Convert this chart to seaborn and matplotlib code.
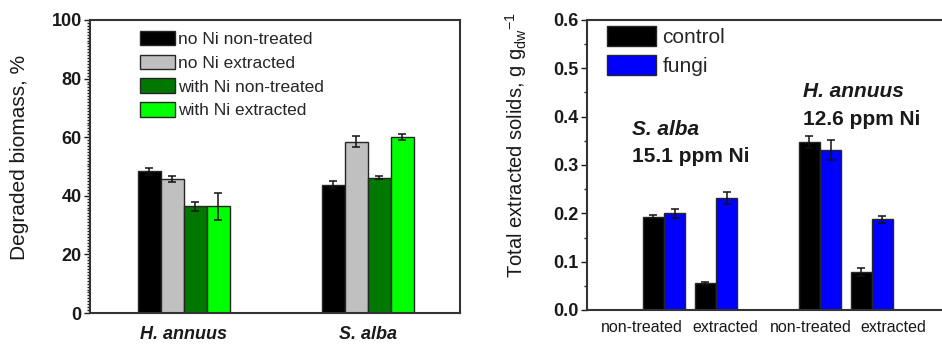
import matplotlib
matplotlib.use("Agg")
import matplotlib.pyplot as plt
from matplotlib.ticker import MultipleLocator, FormatStrFormatter
import pandas as pd
import seaborn as sns

# ---- data: degraded biomass (%) ----
plants = ["H. annuus", "S. alba"]
conditions = ["no Ni non-treated", "no Ni extracted",
              "with Ni non-treated", "with Ni extracted"]
degraded = {
    "H. annuus": [48.3, 45.8, 36.4, 36.4],
    "S. alba":   [43.7, 58.5, 46.2, 60.0],
}
degraded_err = {
    "H. annuus": [1.3, 1.1, 1.5, 4.5],
    "S. alba":   [1.2, 2.0, 0.5, 1.1],
}
cond_colors = ["#000000", "#c0c0c0", "#007800", "#00ff00"]

# ---- data: total extracted solids (g g_dw^-1) ----
solid_groups = ["S. alba non-treated", "S. alba extracted",
                "H. annuus non-treated", "H. annuus extracted"]
solid_ticklabels = ["non-treated", "extracted", "non-treated", "extracted"]
treatments = ["control", "fungi"]
solids_control = [0.193, 0.055, 0.348, 0.079]
solids_fungi = [0.200, 0.232, 0.331, 0.188]
solids_control_err = [0.003, 0.003, 0.012, 0.008]
solids_fungi_err = [0.009, 0.013, 0.021, 0.007]
treat_colors = ["#000000", "#0000ff"]

sns.set_style("ticks")
plt.rcParams["font.family"] = ["Liberation Sans", "DejaVu Sans"]
plt.rcParams["mathtext.fontset"] = "custom"
plt.rcParams["mathtext.rm"] = "Liberation Sans"
plt.rcParams["mathtext.it"] = "Liberation Sans:italic"

ink = "#1a1a1a"
edge = "#262626"

df1 = pd.DataFrame(
    [(p, c, v, e) for p in plants
     for c, v, e in zip(conditions, degraded[p], degraded_err[p])],
    columns=["plant", "condition", "value", "err"],
)

df2 = pd.DataFrame(
    [(g, t, v, e)
     for t, vals, errs in [("control", solids_control, solids_control_err),
                           ("fungi", solids_fungi, solids_fungi_err)]
     for g, v, e in zip(solid_groups, vals, errs)],
    columns=["group", "treatment", "value", "err"],
)

fig = plt.figure(figsize=(9.42, 3.47), dpi=100)
W, H = 942, 347
ax1 = fig.add_axes([90 / W, (H - 313) / H, 370 / W, 293 / H])
ax2 = fig.add_axes([587 / W, (H - 310) / H, (W - 587) / W, 290 / H])


def add_errorbars(ax, df, xcol, hcol, order, hue_order):
    for hue_name, cont in zip(hue_order, ax.containers):
        for bar in cont:
            xc = bar.get_x() + bar.get_width() / 2
            cat = order[int(round(xc))]
            row = df[(df[xcol] == cat) & (df[hcol] == hue_name)].iloc[0]
            ax.errorbar(xc, row["value"], yerr=row["err"], fmt="none",
                        ecolor="#111111", elinewidth=1.1, capsize=3.2,
                        capthick=1.1, zorder=5)


# ---- left panel ----
sns.barplot(data=df1, x="plant", y="value", hue="condition",
            order=plants, hue_order=conditions, palette=cond_colors,
            saturation=1, width=0.5, gap=0, edgecolor=edge, linewidth=1.0,
            errorbar=None, ax=ax1)
add_errorbars(ax1, df1, "plant", "condition", plants, conditions)
ax1.set_xlim(-0.51, 1.5)
ax1.set_ylim(0, 100)
ax1.yaxis.set_major_locator(MultipleLocator(20))
ax1.yaxis.set_minor_locator(MultipleLocator(1))
ax1.set_xlabel("")
ax1.set_ylabel("")
ax1.tick_params(axis="y", which="major", direction="out", length=4,
                width=1.0, color=ink, labelsize=13, labelcolor=ink, pad=2)
ax1.tick_params(axis="y", which="minor", direction="out", length=2.5,
                width=1.0, color="#222222", left=True)
ax1.tick_params(axis="x", which="both", length=0, pad=9.5, labelsize=13,
                labelcolor=ink)
for lab in ax1.get_yticklabels():
    lab.set_fontweight("bold")
for lab in ax1.get_xticklabels():
    lab.set_fontweight("bold")
    lab.set_fontstyle("italic")
for sp in ax1.spines.values():
    sp.set_visible(True)
    sp.set_linewidth(1.5)
    sp.set_color("#333333")
h, l = ax1.get_legend_handles_labels()
ax1.legend(h, l, loc="upper left", bbox_to_anchor=(0.125, 0.975),
           frameon=False, fontsize=12.5, handlelength=2.05, handleheight=0.9,
           labelspacing=0.44, handletextpad=0.18, borderpad=0.2,
           borderaxespad=0)
fig.text(20 / W, (H - 157) / H, "Degraded biomass, %", rotation=90,
         ha="center", va="center", fontsize=15, color=ink)

# ---- right panel ----
solid_order = solid_groups[:2] + [""] + solid_groups[2:]
sns.barplot(data=df2, x="group", y="value", hue="treatment",
            order=solid_order, hue_order=treatments, palette=treat_colors,
            saturation=1, width=0.82, gap=0, edgecolor=edge, linewidth=1.0,
            errorbar=None, ax=ax2)
add_errorbars(ax2, df2, "group", "treatment", solid_order, treatments)
ax2.set_xlim(-1.48, 5.35)
ax2.set_ylim(0, 0.6)
ax2.yaxis.set_major_locator(MultipleLocator(0.1))
ax2.yaxis.set_minor_locator(MultipleLocator(0.05))
ax2.yaxis.set_major_formatter(FormatStrFormatter("%.1f"))
ax2.set_xticks([-0.42, 1.19, 2.83, 4.42])
ax2.set_xticklabels(solid_ticklabels)
ax2.set_xlabel("")
ax2.set_ylabel("")
ax2.tick_params(axis="y", which="major", direction="out", length=4,
                width=1.0, color=ink, labelsize=13, labelcolor=ink, pad=2)
ax2.tick_params(axis="y", which="minor", direction="out", length=2.5,
                width=1.0, color="#222222", left=True)
ax2.tick_params(axis="x", which="both", length=0, pad=7, labelsize=11.5,
                labelcolor=ink)
for lab in ax2.get_yticklabels():
    lab.set_fontweight("bold")
ax2.spines["right"].set_visible(False)
for side in ["top", "left", "bottom"]:
    ax2.spines[side].set_linewidth(1.5)
    ax2.spines[side].set_color("#333333")
h, l = ax2.get_legend_handles_labels()
ax2.legend(h, l, loc="upper left", bbox_to_anchor=(0.045, 0.995),
           frameon=False, fontsize=15, handlelength=2.35, handleheight=1.15,
           labelspacing=0.36, handletextpad=0.3, borderpad=0.2,
           borderaxespad=0)

ax2.text(-0.62, 0.373, "S. alba", fontsize=15, fontweight="bold",
         fontstyle="italic", ha="left", va="center", color=ink)
ax2.text(-0.62, 0.318, "15.1 ppm Ni", fontsize=15, fontweight="bold",
         ha="left", va="center", color=ink)
ax2.text(2.67, 0.452, "H. annuus", fontsize=15, fontweight="bold",
         fontstyle="italic", ha="left", va="center", color=ink)
ax2.text(2.67, 0.395, "12.6 ppm Ni", fontsize=15, fontweight="bold",
         ha="left", va="center", color=ink)

fig.text(516 / W, (H - 278) / H,
         "Total extracted solids, g g$_{\\mathregular{dw}}$$^{\\mathregular{-1}}$",
         rotation=90, ha="center", va="bottom", fontsize=14.5, color=ink)

fig.savefig("out.png", dpi=100)
